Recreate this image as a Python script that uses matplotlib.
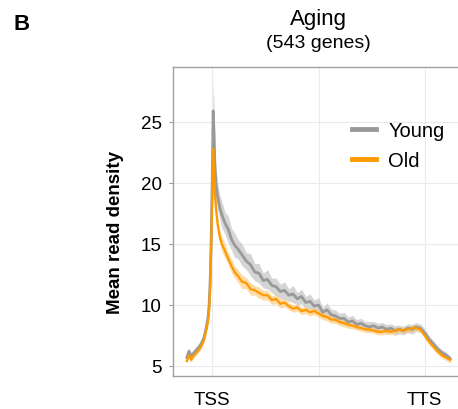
import matplotlib
matplotlib.use("Agg")
import matplotlib.pyplot as plt
import numpy as np

plt.rcParams['font.family'] = ['Liberation Sans', 'DejaVu Sans']

# positions along metagene (TSS = 0, TTS = 1)
pos = [-0.12, -0.11, -0.10, -0.09, -0.08, -0.07, -0.06, -0.05, -0.04, -0.03, -0.02, -0.015, -0.01, -0.005, 0.0,
       0.004, 0.008, 0.012, 0.018, 0.025, 0.035, 0.045, 0.06, 0.075, 0.09, 0.105, 0.12,
       0.14, 0.16, 0.18, 0.20, 0.22, 0.24, 0.26, 0.28, 0.30, 0.32, 0.34, 0.36, 0.38, 0.40,
       0.42, 0.44, 0.46, 0.48, 0.50, 0.52, 0.54, 0.56, 0.58, 0.60, 0.62, 0.64, 0.66, 0.68,
       0.70, 0.72, 0.74, 0.76, 0.78, 0.80, 0.82, 0.84, 0.86, 0.88, 0.90, 0.92, 0.94, 0.96,
       0.98, 1.0, 1.02, 1.04, 1.06, 1.08, 1.10, 1.12]

young = [5.7, 6.2, 5.8, 6.0, 6.2, 6.4, 6.6, 6.9, 7.3, 8.0, 9.0, 10.0, 12.0, 15.5, 20.5,
         25.9, 24.2, 21.5, 19.8, 18.9, 18.0, 17.4, 16.7, 16.2, 15.4, 14.9, 14.6,
         14.1, 13.6, 13.3, 12.7, 12.6, 12.0, 12.1, 11.6, 11.5, 11.1, 11.2, 10.8, 10.9, 10.5,
         10.7, 10.2, 10.3, 9.9, 10.0, 9.4, 9.6, 9.2, 9.1, 8.9, 8.9, 8.6, 8.7, 8.4,
         8.5, 8.3, 8.2, 8.3, 8.1, 8.2, 8.0, 8.1, 7.9, 8.0, 7.9, 8.1, 8.0, 8.2,
         8.1, 7.7, 7.2, 6.8, 6.4, 6.1, 5.9, 5.6]

young_se = [0.3, 0.3, 0.3, 0.3, 0.3, 0.3, 0.3, 0.3, 0.3, 0.35, 0.4, 0.5, 0.8, 1.3, 2.2,
            2.6, 2.2, 1.6, 1.3, 1.1, 1.0, 1.1, 0.9, 1.1, 0.9, 1.0, 0.8,
            0.9, 0.7, 0.9, 0.7, 0.8, 0.6, 0.8, 0.6, 0.7, 0.6, 0.7, 0.5, 0.7, 0.5,
            0.6, 0.5, 0.6, 0.5, 0.6, 0.4, 0.55, 0.45, 0.5, 0.4, 0.5, 0.4, 0.45, 0.4,
            0.4, 0.35, 0.45, 0.35, 0.4, 0.35, 0.4, 0.35, 0.4, 0.35, 0.35, 0.35, 0.4, 0.35,
            0.35, 0.35, 0.3, 0.3, 0.3, 0.25, 0.25, 0.25]

old = [5.4, 5.9, 5.5, 5.8, 6.0, 6.2, 6.4, 6.7, 7.1, 7.8, 8.7, 9.6, 11.5, 15.0, 19.5,
       22.8, 21.0, 19.2, 17.8, 16.6, 15.6, 15.0, 14.4, 13.8, 13.2, 12.7, 12.4,
       11.9, 11.8, 11.3, 11.2, 11.0, 10.8, 10.8, 10.4, 10.5, 10.1, 10.2, 9.9, 9.7, 9.8,
       9.5, 9.6, 9.4, 9.5, 9.3, 9.1, 9.0, 8.8, 8.8, 8.6, 8.5, 8.4, 8.3, 8.2,
       8.1, 8.0, 8.0, 7.9, 7.8, 7.8, 7.9, 7.8, 7.9, 8.0, 7.9, 8.0, 8.1, 8.1,
       8.0, 7.5, 7.0, 6.6, 6.2, 5.9, 5.7, 5.5]

old_se = [0.2, 0.2, 0.2, 0.2, 0.2, 0.2, 0.2, 0.2, 0.2, 0.25, 0.3, 0.4, 0.5, 0.8, 1.2,
          1.2, 1.0, 0.9, 0.8, 0.7, 0.6, 0.6, 0.6, 0.5, 0.55, 0.5, 0.5,
          0.55, 0.45, 0.5, 0.4, 0.45, 0.4, 0.4, 0.35, 0.4, 0.35, 0.35, 0.3, 0.3, 0.3,
          0.3, 0.3, 0.3, 0.3, 0.3, 0.3, 0.3, 0.3, 0.3, 0.3, 0.3, 0.3, 0.25, 0.25,
          0.25, 0.25, 0.25, 0.25, 0.25, 0.25, 0.25, 0.25, 0.25, 0.25, 0.25, 0.25, 0.25, 0.25,
          0.25, 0.25, 0.25, 0.25, 0.25, 0.25, 0.25, 0.25]

x_ticks = [0.0, 1.0]
x_ticklabels = ['TSS', 'TTS']
y_ticks = [5, 10, 15, 20, 25]

pos_a = np.array(pos)
young_a, young_s = np.array(young), np.array(young_se)
old_a, old_s = np.array(old), np.array(old_se)

fig = plt.figure(figsize=(4.58, 4.10), dpi=100)
ax = fig.add_axes([173/458, 1 - 377/410, (460 - 173)/458, (377 - 68)/410])

ax.fill_between(pos_a, young_a - young_s, young_a + young_s, color='#c8c8c8', alpha=0.75, lw=0)
ax.fill_between(pos_a, old_a - old_s, old_a + old_s, color='#ffc46b', alpha=0.6, lw=0)
ax.plot(pos_a, young_a, color='#999999', lw=2.0, label='Young', zorder=3)
ax.plot(pos_a, old_a, color='#ff9900', lw=1.6, label='Old', zorder=4)

ax.set_xlim(-0.185, 1.166)
ax.set_ylim(4.18, 29.5)
ax.set_xticks(x_ticks)
ax.set_xticklabels(x_ticklabels, fontsize=13.5)
ax.set_xticks([0.5], minor=True)
ax.set_yticks(y_ticks)
ax.tick_params(axis='y', labelsize=13.5, length=3, color='#999999', pad=5)
ax.tick_params(axis='x', length=0, pad=11)
ax.tick_params(axis='x', which='minor', length=0)
ax.grid(True, which='both', color='#ebebeb', lw=0.8)
ax.set_axisbelow(True)
for s in ax.spines.values():
    s.set_color('#a0a0a0')
    s.set_linewidth(1.0)

ax.set_ylabel('Mean read density', fontsize=13.5, fontweight='bold')
ax.yaxis.set_label_coords(-0.172, 0.469)

leg = ax.legend(loc='center left', bbox_to_anchor=(0.56, 0.745), frameon=False,
                fontsize=14.5, handlelength=1.2, handletextpad=0.6, labelspacing=0.55)
for line in leg.get_lines():
    line.set_linewidth(3.5)

fig.text(318/458, 1 - 19/410, 'Aging', ha='center', va='center', fontsize=16)
fig.text(318/458, 1 - 43/410, '(543 genes)', ha='center', va='center', fontsize=14)
fig.text(22/458, 1 - 25/410, 'B', ha='center', va='center', fontsize=16, fontweight='bold')

fig.savefig('out.png', dpi=100)
